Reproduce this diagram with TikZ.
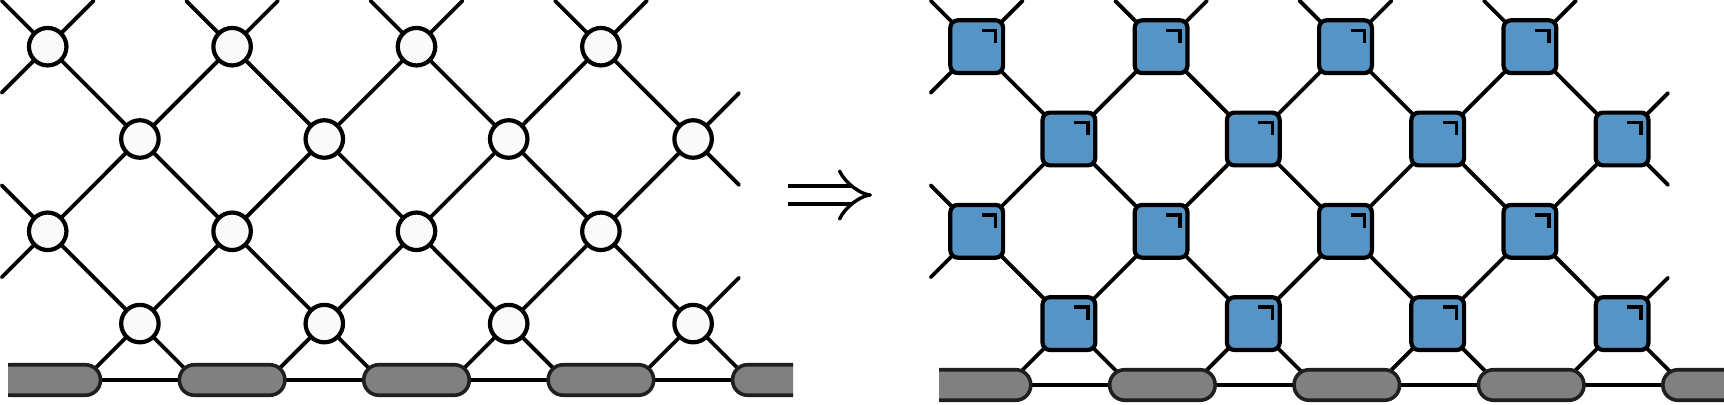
\documentclass[tikz,border=0pt]{standalone}
\usepackage{xcolor}
\usepackage{tikz}
\usetikzlibrary{arrows.meta,calc,backgrounds}
\definecolor{gateblue}{RGB}{86,148,197}
\definecolor{mpsgray}{RGB}{128,128,128}
\tikzset{
  leg/.style={line width=0.076cm,line cap=round},
  site/.style={circle,draw,line width=0.084cm,fill=white!98!black,
              minimum size=0.75cm,inner sep=0pt},
  gate/.style={rectangle,draw,line width=0.084cm,rounded corners=0.15cm,
              fill=gateblue,minimum size=1.056cm,inner sep=0pt,
              path picture={\draw[line width=0.068cm,sharp corners]
                ([xshift=0.1cm,yshift=0.33cm]path picture bounding box.center)
                -- ++(0.28cm,0) -- ++(0,-0.26cm);}},
  mpsblob/.style={rectangle,draw=black!88,line width=0.072cm,fill=mpsgray,
              rounded corners=0.3cm,minimum width=2.11cm,minimum height=0.61cm,
              inner sep=0pt},
  implies/.style={double,line width=0.068cm,double distance=0.294cm,-{Implies}},
}

\begin{document}
\begin{tikzpicture}[x=0.02cm,y=-0.02cm]
  \useasboundingbox (0,0) rectangle (1724,405);
  % left: lattice of circles
  \foreach \j in {0,2} \foreach \i in {0,2,4,6}
    \node[site] (s-\i-\j) at ({47.7+92.2*\i},{46.7+92.3*\j}) {};
  \foreach \j in {1,3} \foreach \i in {1,3,5,7}
    \node[site] (s-\i-\j) at ({47.7+92.2*\i},{46.7+92.3*\j}) {};
  \begin{scope}[on background layer]
    \foreach \j/\jj in {0/1,2/3} \foreach \i/\k in {0/1,2/1,2/3,4/3,4/5,6/5,6/7}
      \draw[leg] (s-\i-\j.center) -- (s-\k-\jj.center);
    \foreach \i/\k in {1/0,1/2,3/2,3/4,5/4,5/6,7/6}
      \draw[leg] (s-\i-1.center) -- (s-\k-2.center);
    % open legs
    \foreach \i in {0,2,4,6} {
      \draw[leg] (s-\i-0.center) -- ++(-46,-46) coordinate (s-\i-ul);
      \draw[leg] (s-\i-0.center) -- ++(46,-46) coordinate (s-\i-ur);
    }
    \foreach \j in {0,2}
      \draw[leg] (s-0-\j.center) -- ++(-46,46) coordinate (s-0-\j-dl);
    \draw[leg] (s-0-2.center) -- ++(-46,-46) coordinate (s-0-2-ul);
    \foreach \j in {1,3}
      \draw[leg] (s-7-\j.center) -- ++(46,-46) coordinate (s-7-\j-ur);
    \draw[leg] (s-7-1.center) -- ++(46,46) coordinate (s-7-1-dr);
    % legs into the boundary
    \foreach \i in {1,3,5,7} {
      \draw[leg] (s-\i-3.center) -- ++(-56,56) coordinate (s-\i-dl);
      \draw[leg] (s-\i-3.center) -- ++(56,56) coordinate (s-\i-dr);
    }
  \end{scope}
  \begin{scope}
    \clip (8,0) rectangle (793,405);
    \foreach \i in {0,2,4,6,8}
      \node[mpsblob] (m-\i) at ({47.7+92.2*\i},380) {};
  \end{scope}
  \begin{scope}[on background layer]
    \draw[leg] (m-0.center) -- (m-8.center);
  \end{scope}

  % arrow
  \coordinate (arr-a) at (788,195);
  \coordinate (arr-b) at (872,195);
  \draw[implies] (arr-a) -- (arr-b);

  % right: lattice of gates
  \foreach \j in {0,2} \foreach \i in {0,2,4,6}
    \node[gate] (g-\i-\j) at ({976.7+92.2*\i},{46.7+92.3*\j}) {};
  \foreach \j in {1,3} \foreach \i in {1,3,5,7}
    \node[gate] (g-\i-\j) at ({976.7+92.2*\i},{46.7+92.3*\j}) {};
  \begin{scope}[on background layer]
    \foreach \j/\jj in {0/1,2/3} \foreach \i/\k in {0/1,2/1,2/3,4/3,4/5,6/5,6/7}
      \draw[leg] (g-\i-\j.center) -- (g-\k-\jj.center);
    \foreach \i/\k in {1/0,1/2,3/2,3/4,5/4,5/6,7/6}
      \draw[leg] (g-\i-1.center) -- (g-\k-2.center);
    % open legs
    \foreach \i in {0,2,4,6} {
      \draw[leg] (g-\i-0.center) -- ++(-46,-46) coordinate (g-\i-ul);
      \draw[leg] (g-\i-0.center) -- ++(46,-46) coordinate (g-\i-ur);
    }
    \foreach \j in {0,2}
      \draw[leg] (g-0-\j.center) -- ++(-46,46) coordinate (g-0-\j-dl);
    \draw[leg] (g-0-2.center) -- ++(-46,-46) coordinate (g-0-2-ul);
    \foreach \j in {1,3}
      \draw[leg] (g-7-\j.center) -- ++(46,-46) coordinate (g-7-\j-ur);
    \draw[leg] (g-7-1.center) -- ++(46,46) coordinate (g-7-1-dr);
    % legs into the boundary
    \foreach \i in {1,3,5,7} {
      \draw[leg] (g-\i-3.center) -- ++(-60,60) coordinate (g-\i-dl);
      \draw[leg] (g-\i-3.center) -- ++(60,60) coordinate (g-\i-dr);
    }
  \end{scope}
  \begin{scope}
    \clip (939,0) rectangle (1724,405);
    \foreach \i in {0,2,4,6,8}
      \node[mpsblob] (n-\i) at ({978+92.2*\i},385) {};
  \end{scope}
  \begin{scope}[on background layer]
    \draw[leg] (n-0.center) -- (n-8.center);
  \end{scope}
\end{tikzpicture}
\end{document}
